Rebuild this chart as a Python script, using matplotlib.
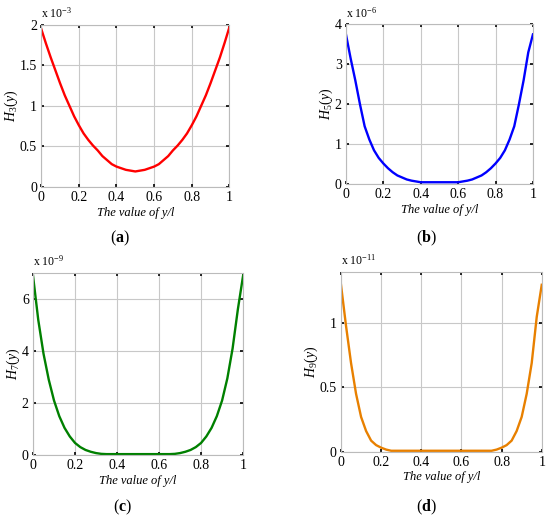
import matplotlib
matplotlib.use("Agg")
import matplotlib.pyplot as plt

plt.rcParams['font.family'] = ['Liberation Serif', 'DejaVu Serif']
plt.rcParams['mathtext.fontset'] = 'custom'
plt.rcParams['mathtext.rm'] = 'Liberation Serif'
plt.rcParams['mathtext.it'] = 'Liberation Serif:italic'
plt.rcParams['mathtext.bf'] = 'Liberation Serif:bold'

# y/l positions
x = [0.000, 0.025, 0.050, 0.075, 0.100, 0.125, 0.150, 0.175, 0.200, 0.225,
     0.250, 0.275, 0.300, 0.325, 0.350, 0.375, 0.400, 0.425, 0.450, 0.475,
     0.500,
     0.525, 0.550, 0.575, 0.600, 0.625, 0.650, 0.675, 0.700, 0.725, 0.750,
     0.775, 0.800, 0.825, 0.850, 0.875, 0.900, 0.925, 0.950, 0.975, 1.000]

# values (in units of the axis multiplier)
h3 = [1.95, 1.77, 1.60, 1.44, 1.28, 1.13, 1.00, 0.87, 0.76, 0.66,
      0.58, 0.51, 0.45, 0.38, 0.33, 0.28, 0.25, 0.23, 0.21, 0.20,
      0.19,
      0.20, 0.21, 0.23, 0.25, 0.28, 0.33, 0.38, 0.45, 0.51, 0.58,
      0.66, 0.76, 0.87, 1.00, 1.13, 1.28, 1.44, 1.60, 1.78, 1.97]
h5 = [3.75, 3.15, 2.60, 2.00, 1.45, 1.12, 0.85, 0.66, 0.52, 0.40,
      0.30, 0.22, 0.17, 0.12, 0.09, 0.07, 0.05, 0.05, 0.05, 0.05,
      0.05,
      0.05, 0.05, 0.05, 0.05, 0.07, 0.09, 0.12, 0.17, 0.22, 0.30,
      0.40, 0.52, 0.66, 0.85, 1.12, 1.45, 2.00, 2.60, 3.30, 3.75]
h7 = [6.90, 5.20, 3.90, 2.90, 2.10, 1.50, 1.05, 0.72, 0.47, 0.31,
      0.20, 0.13, 0.08, 0.05, 0.04, 0.04, 0.04, 0.04, 0.04, 0.04,
      0.04,
      0.04, 0.04, 0.04, 0.04, 0.04, 0.04, 0.05, 0.08, 0.13, 0.20,
      0.31, 0.47, 0.72, 1.05, 1.50, 2.10, 2.95, 4.10, 5.60, 6.90]
h9 = [1.30, 0.98, 0.69, 0.45, 0.27, 0.16, 0.085, 0.05, 0.03, 0.015,
      0.006, 0.006, 0.006, 0.006, 0.006, 0.006, 0.006, 0.006, 0.006, 0.006,
      0.006,
      0.006, 0.006, 0.006, 0.006, 0.006, 0.006, 0.006, 0.006, 0.006, 0.006,
      0.015, 0.03, 0.05, 0.085, 0.16, 0.27, 0.45, 0.69, 1.05, 1.30]

xticks = [0, 0.2, 0.4, 0.6, 0.8, 1]
xticklabels = ['0', '0.2', '0.4', '0.6', '0.8', '1']

panels = [
    # data, colour, ylabel, exponent, ylim, yticks, yticklabels, axes rect, letter, letter pos
    (h3, '#ff0000', r'$H_3(y)$', '-3', 2, [0, 0.5, 1, 1.5, 2], ['0', '0.5', '1', '1.5', '2'],
     [0.075, 0.640, 0.342, 0.312], 'a', (0.218, 0.541)),
    (h5, '#0000ff', r'$H_5(y)$', '-6', 4, [0, 1, 2, 3, 4], ['0', '1', '2', '3', '4'],
     [0.629, 0.645, 0.340, 0.308], 'b', (0.776, 0.541)),
    (h7, '#008000', r'$H_7(y)$', '-9', 7, [0, 2, 4, 6], ['0', '2', '4', '6'],
     [0.060, 0.123, 0.382, 0.351], 'c', (0.222, 0.022)),
    (h9, '#e88000', r'$H_9(y)$', '-11', 1.4, [0, 0.5, 1], ['0', '0.5', '1'],
     [0.620, 0.130, 0.365, 0.346], 'd', (0.775, 0.023)),
]

fig = plt.figure(figsize=(5.5, 5.19), dpi=100)

for y, col, ylab, expo, ytop, yt, ytl, rect, letter, lpos in panels:
    ax = fig.add_axes(rect)
    ax.plot(x, y, color=col, lw=1.7)
    ax.set_xlim(0, 1)
    ax.set_ylim(0, ytop)
    ax.set_xticks(xticks)
    ax.set_xticklabels(xticklabels)
    ax.set_yticks(yt)
    ax.set_yticklabels(ytl)
    ax.grid(True, color='#c8c8c8', lw=0.8)
    for s in ax.spines.values():
        s.set_color('#bbbbbb')
        s.set_linewidth(0.8)
    ax.tick_params(direction='in', length=2.5, width=1.2, color='black',
                   top=True, right=True, labelsize=10, pad=3)
    ax.set_xlabel('The value of y/l', style='italic', fontsize=9, labelpad=2)
    ax.set_ylabel(ylab, fontsize=10, labelpad=0)
    ax.text(0, 1.025, r'x 10$^{%s}$' % expo, transform=ax.transAxes,
            fontsize=8.5, ha='left', va='bottom')
    fig.text(lpos[0], lpos[1], r'($\mathbf{%s}$)' % letter,
             ha='center', va='center', fontsize=11.5)

fig.savefig('out.png', dpi=100)
